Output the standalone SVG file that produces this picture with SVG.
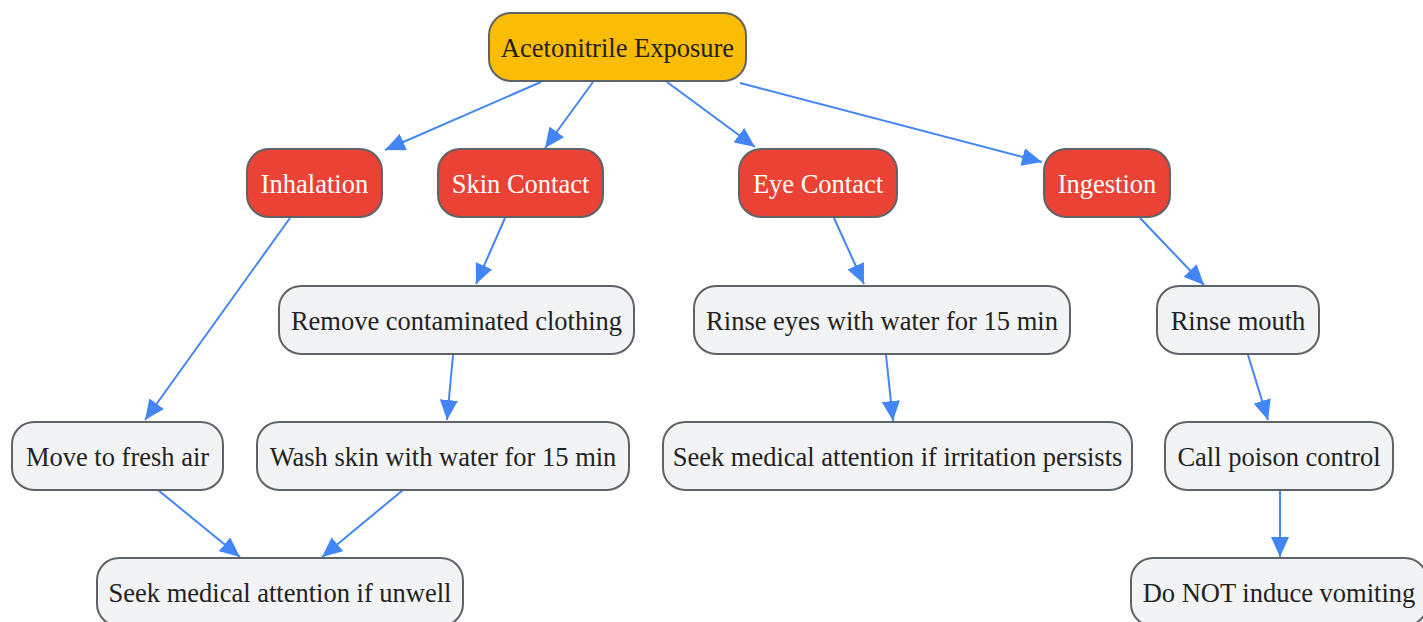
<svg xmlns="http://www.w3.org/2000/svg" width="1423" height="622" viewBox="0 0 1423 622">
<defs>
<marker id="ah" markerUnits="userSpaceOnUse" markerWidth="22" markerHeight="18" refX="20" refY="9" orient="auto">
<path d="M0,0 L20,9 L0,18 Z" fill="#4285f4"/>
</marker>
<style>
.n rect{stroke:#5f6368;stroke-width:2}
.root rect{fill:#fbbc05}
.cat rect{fill:#ea4335}
.step rect{fill:#f1f3f4}
text{font-family:"Liberation Serif","Times New Roman",serif;font-size:26.5px;text-anchor:middle;dominant-baseline:central}
.root text,.step text{fill:#222}
.cat text{fill:#fff}
#edges line{stroke:#4285f4;stroke-width:2;marker-end:url(#ah)}
</style>
</defs>
<rect width="1423" height="622" fill="#fff"/>
<g id="edges">
<line x1="541" y1="82" x2="385" y2="150"/>
<line x1="593" y1="82" x2="545" y2="148"/>
<line x1="667" y1="82" x2="755" y2="147"/>
<line x1="740" y1="83" x2="1042" y2="162"/>
<line x1="290" y1="218" x2="145" y2="420"/>
<line x1="505" y1="218" x2="476" y2="284"/>
<line x1="453" y1="355" x2="447" y2="420"/>
<line x1="834" y1="218" x2="864" y2="284"/>
<line x1="886" y1="355" x2="893" y2="421"/>
<line x1="1140" y1="218" x2="1204" y2="285"/>
<line x1="1248" y1="355" x2="1268" y2="420"/>
<line x1="1280" y1="490" x2="1280" y2="557"/>
<line x1="158" y1="490" x2="240" y2="557"/>
<line x1="403" y1="490" x2="322" y2="557"/>
</g>
<g id="root" class="n root"><rect x="489" y="13" width="257" height="68" rx="22"/><text x="617.5" y="48">Acetonitrile Exposure</text></g>
<g id="inhalation" class="n cat"><rect x="247" y="149" width="135" height="68" rx="22"/><text x="314.5" y="184">Inhalation</text></g>
<g id="skin" class="n cat"><rect x="438" y="149" width="165" height="68" rx="22"/><text x="520.5" y="184">Skin Contact</text></g>
<g id="eye" class="n cat"><rect x="739" y="149" width="158" height="68" rx="22"/><text x="818" y="184">Eye Contact</text></g>
<g id="ingestion" class="n cat"><rect x="1044" y="149" width="126" height="68" rx="22"/><text x="1107" y="184">Ingestion</text></g>
<g id="remove" class="n step"><rect x="279" y="286" width="355" height="68" rx="22"/><text x="456.5" y="321">Remove contaminated clothing</text></g>
<g id="rinseeyes" class="n step"><rect x="694" y="286" width="376" height="68" rx="22"/><text x="882" y="321">Rinse eyes with water for 15 min</text></g>
<g id="rinsemouth" class="n step"><rect x="1157" y="286" width="162" height="68" rx="22"/><text x="1238" y="321">Rinse mouth</text></g>
<g id="freshair" class="n step"><rect x="12" y="422" width="211" height="68" rx="22"/><text x="117.5" y="457">Move to fresh air</text></g>
<g id="wash" class="n step"><rect x="257" y="422" width="372" height="68" rx="22"/><text x="443" y="457">Wash skin with water for 15 min</text></g>
<g id="irritation" class="n step"><rect x="663" y="422" width="469" height="68" rx="22"/><text x="897.5" y="457">Seek medical attention if irritation persists</text></g>
<g id="poison" class="n step"><rect x="1165" y="422" width="228" height="68" rx="22"/><text x="1279" y="457">Call poison control</text></g>
<g id="unwell" class="n step"><rect x="97" y="558" width="366" height="68" rx="22"/><text x="280" y="593">Seek medical attention if unwell</text></g>
<g id="vomit" class="n step"><rect x="1131" y="558" width="296" height="68" rx="22"/><text x="1279" y="593">Do NOT induce vomiting</text></g>
</svg>
